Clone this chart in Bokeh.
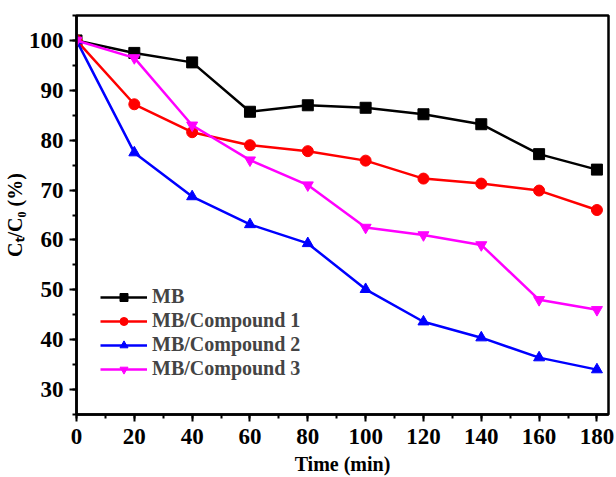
from bokeh.plotting import figure
from bokeh.models import Range1d, Legend, LegendItem, FixedTicker
from bokeh.embed import file_html
from bokeh.resources import INLINE

time_min = [0, 20, 40, 60, 80, 100, 120, 140, 160, 180]
mb = [100, 97.5, 95.6, 85.7, 87.0, 86.5, 85.2, 83.2, 77.2, 74.1]
mb_c1 = [100, 87.2, 81.6, 79.0, 77.8, 75.9, 72.3, 71.3, 69.9, 66.0]
mb_c2 = [100, 77.5, 68.7, 63.1, 59.3, 50.1, 43.6, 40.4, 36.4, 34.0]
mb_c3 = [100, 96.5, 83.0, 76.0, 71.0, 62.5, 61.0, 59.0, 48.0, 46.0]
labels = ["MB", "MB/Compound 1", "MB/Compound 2", "MB/Compound 3"]
colors = ["#000000", "#ff0000", "#0000ff", "#ff00ff"]
markers = ["square", "circle", "triangle", "inverted_triangle"]
x_ticks = [0, 20, 40, 60, 80, 100, 120, 140, 160, 180]
y_ticks = [30, 40, 50, 60, 70, 80, 90, 100]

FONT = "Liberation Serif"

p = figure(width=616, height=477, output_backend="svg", toolbar_location=None,
           x_range=Range1d(0, 184), y_range=Range1d(25, 105),
           min_border_left=76, min_border_right=8, min_border_top=15, min_border_bottom=63)

items = []
for ys, lab, c, m in zip([mb, mb_c1, mb_c2, mb_c3], labels, colors, markers):
    r1 = p.line(time_min, ys, line_color=c, line_width=2.5)
    r2 = p.scatter(time_min, ys, marker=m, size=11, fill_color=c, line_color=c)
    items.append(LegendItem(label=lab, renderers=[r1, r2]))

legend = Legend(items=items, location=(24, 34), border_line_color=None,
                background_fill_alpha=0, label_text_font=FONT, label_text_font_style="bold",
                label_text_font_size="20px", glyph_width=47, glyph_height=20,
                spacing=1, padding=0, margin=0, label_standoff=5, label_height=20)
p.add_layout(legend, "center")

p.grid.visible = False
p.outline_line_color = "black"
p.outline_line_width = 2.5
p.background_fill_color = "white"

p.xaxis.ticker = FixedTicker(ticks=x_ticks, minor_ticks=list(range(0, 181, 10)))
p.yaxis.ticker = FixedTicker(ticks=y_ticks, minor_ticks=list(range(25, 106, 5)))

for ax in [p.xaxis[0], p.yaxis[0]]:
    ax.axis_line_width = 2.5
    ax.major_tick_line_width = 2
    ax.minor_tick_line_width = 2
    ax.major_tick_out = 7
    ax.major_tick_in = 0
    ax.minor_tick_out = 4
    ax.minor_tick_in = 0
    ax.major_label_text_font = FONT
    ax.major_label_text_font_style = "bold"
    ax.major_label_text_font_size = "23px"
    ax.major_label_text_color = "black"
    ax.axis_label_text_font = FONT
    ax.axis_label_text_font_style = "bold"
    ax.axis_label_text_font_size = "20px"
    ax.axis_label_text_color = "black"

p.xaxis.axis_label = "Time (min)"
p.yaxis.axis_label = "Cₜ/C₀ (%)"
p.xaxis.axis_label_standoff = 6
p.yaxis.axis_label_standoff = 0
p.xaxis.major_label_standoff = 7
p.yaxis.major_label_standoff = 6

open("out.html", "w").write(file_html(p, INLINE))
